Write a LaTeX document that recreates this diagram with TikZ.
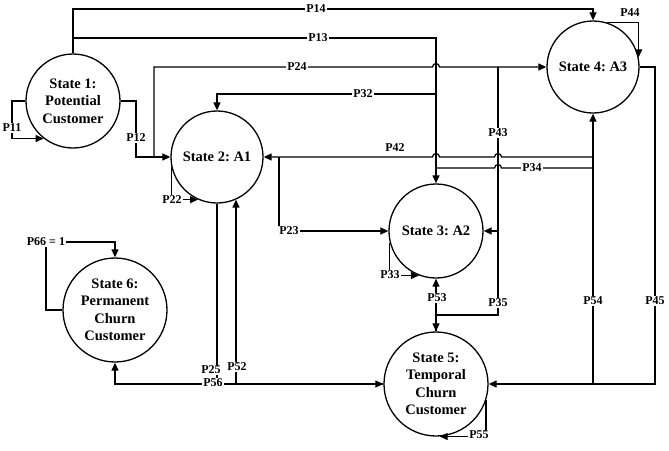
\documentclass[tikz,border=0pt]{standalone}
\usepackage{fontspec}
\setmainfont{Liberation Serif}
\usetikzlibrary{arrows.meta}
\tikzset{
  st/.style={circle,draw,line width=1.3pt,align=center,inner sep=0pt,
    font=\fontsize{14.5}{17.5}\selectfont\bfseries\frenchspacing},
  ln/.style={line width=1.25pt},
  arr/.style={ln,-{Triangle[length=8pt,width=7pt]}},
  lab/.style={fill=white,inner sep=1pt,font=\fontsize{12}{14}\selectfont\bfseries},
  labn/.style={inner sep=1pt,font=\fontsize{12}{14}\selectfont\bfseries}
}
\begin{document}
\begin{tikzpicture}[x=1pt,y=-1pt]
\useasboundingbox (0,0) rectangle (669,450);
% states
\node[st,minimum size=94pt] (s1) at (73,101) {State 1:\\Potential\\Customer};
\node[st,minimum size=92pt] (s2) at (217,157) {State 2: A1};
\node[st,minimum size=94pt] (s3) at (436,231) {State 3: A2};
\node[st,minimum size=92pt] (s4) at (593,67) {State 4: A3};
\node[st,minimum size=104pt] (s5) at (436,384) {State 5:\\Temporal\\Churn\\Customer};
\node[st,minimum size=104pt] (s6) at (115,310) {State 6:\\Permanent\\Churn\\Customer};
% junction coordinates
\coordinate (j14) at (73,9);
\coordinate (j13) at (73,38);
\coordinate (j24) at (154,157);
\coordinate (j32) at (436,94);
\coordinate (j42) at (593,157);
\coordinate (j34) at (593,168);
\coordinate (j43) at (498,67);
\coordinate (j35) at (498,231);
\coordinate (k35) at (498,315);
\coordinate (j54) at (593,384);
\coordinate (j45) at (655,67);
\coordinate (j23) at (279,157);
\coordinate (j12) at (136,101);
\coordinate (j11) at (12,101);
\coordinate (j66) at (46,242);
\coordinate (j25) at (217,384);
% P14, P13
\draw[arr] (s1.north) -- (j14) -| (s4.north);
\draw[arr] (j13) -| (s3.north);
% P24 with hop over x=436
\draw[arr] (j24) |- (432.5,67) .. controls (432.5,62.5) and (439.5,62.5) .. (439.5,67) -- (s4.west);
% P32
\draw[arr] (j32) -| (s2.north);
% P42 with hops at 436 and 498
\draw[arr] (j42) -- (501.5,157) .. controls (501.5,152.5) and (494.5,152.5) .. (494.5,157)
  -- (439.5,157) .. controls (439.5,152.5) and (432.5,152.5) .. (432.5,157) -- (s2.east);
% P34 with hop at 498
\draw[ln] (j34) -- (501.5,168) .. controls (501.5,163.5) and (494.5,163.5) .. (494.5,168) -- (436,168);
% P54 (vertical to S4)
\draw[arr] (j54) -- (s4.south);
% P45
\draw[arr] (s4.east) -- (j45) |- (s5.east);
% P43, P35
\draw[arr] (j43) |- (s3.east);
\draw[arr] (j35) -- (k35) -| (s5.north);
% P53
\draw[arr] (s5.north) -- (s3.south);
% P23
\draw[arr] (j23) |- (s3.west);
% P12, P11
\draw[arr] (s1.east) -- (j12) |- (s2.west);
\draw[arr] (s1.west) -- (j11) |- (s1.232);
% self loops
\draw[arr] (s2.192) |- (s2.246);
\draw[arr] (s3.194) |- (s3.249);
\draw[arr] (s5.342) |- (s5.274);
\draw[arr] (s4.73) -| (s4.12);
\draw[arr] (s6.west) -| (j66) -| (s6.north);
% P25, P52, P56
\draw[arr] (s2.south) -- (j25) -- (s5.west);
\draw[arr] (s2.294 |- s5.west) -- (s2.294);
\draw[arr] (s5.west) -| (s6.south);
% labels
\node[lab] (l14) at (316,9) {P14};
\node[lab] (l13) at (318,38) {P13};
\node[lab] (l24) at (297,67) {P24};
\node[lab] (l32) at (363,94) {P32};
\node[labn] (l42) at (395,148) {P42};
\node[lab] (l34) at (532,168) {P34};
\node[lab] (l43) at (498,133) {P43};
\node[lab] (l23) at (289,231) {P23};
\node[lab] (l12) at (136,138) {P12};
\node[lab] (l11) at (12,128) {P11};
\node[lab] (l22) at (172,200) {P22};
\node[lab] (l33) at (390,275) {P33};
\node[lab] (l53) at (437,298) {P53};
\node[lab] (l35) at (498,303) {P35};
\node[lab] (l54) at (593,301) {P54};
\node[lab] (l45) at (655,301) {P45};
\node[lab] (l55) at (479,435) {P55};
\node[labn] (l44) at (630,13) {P44};
\node[lab] (l52) at (237,367) {P52};
\node[lab] (l25) at (211,370) {P25};
\node[lab] (l56) at (213,383) {P56};
\node[lab] (l66) at (46,242) {P66 = 1};
\end{tikzpicture}
\end{document}
